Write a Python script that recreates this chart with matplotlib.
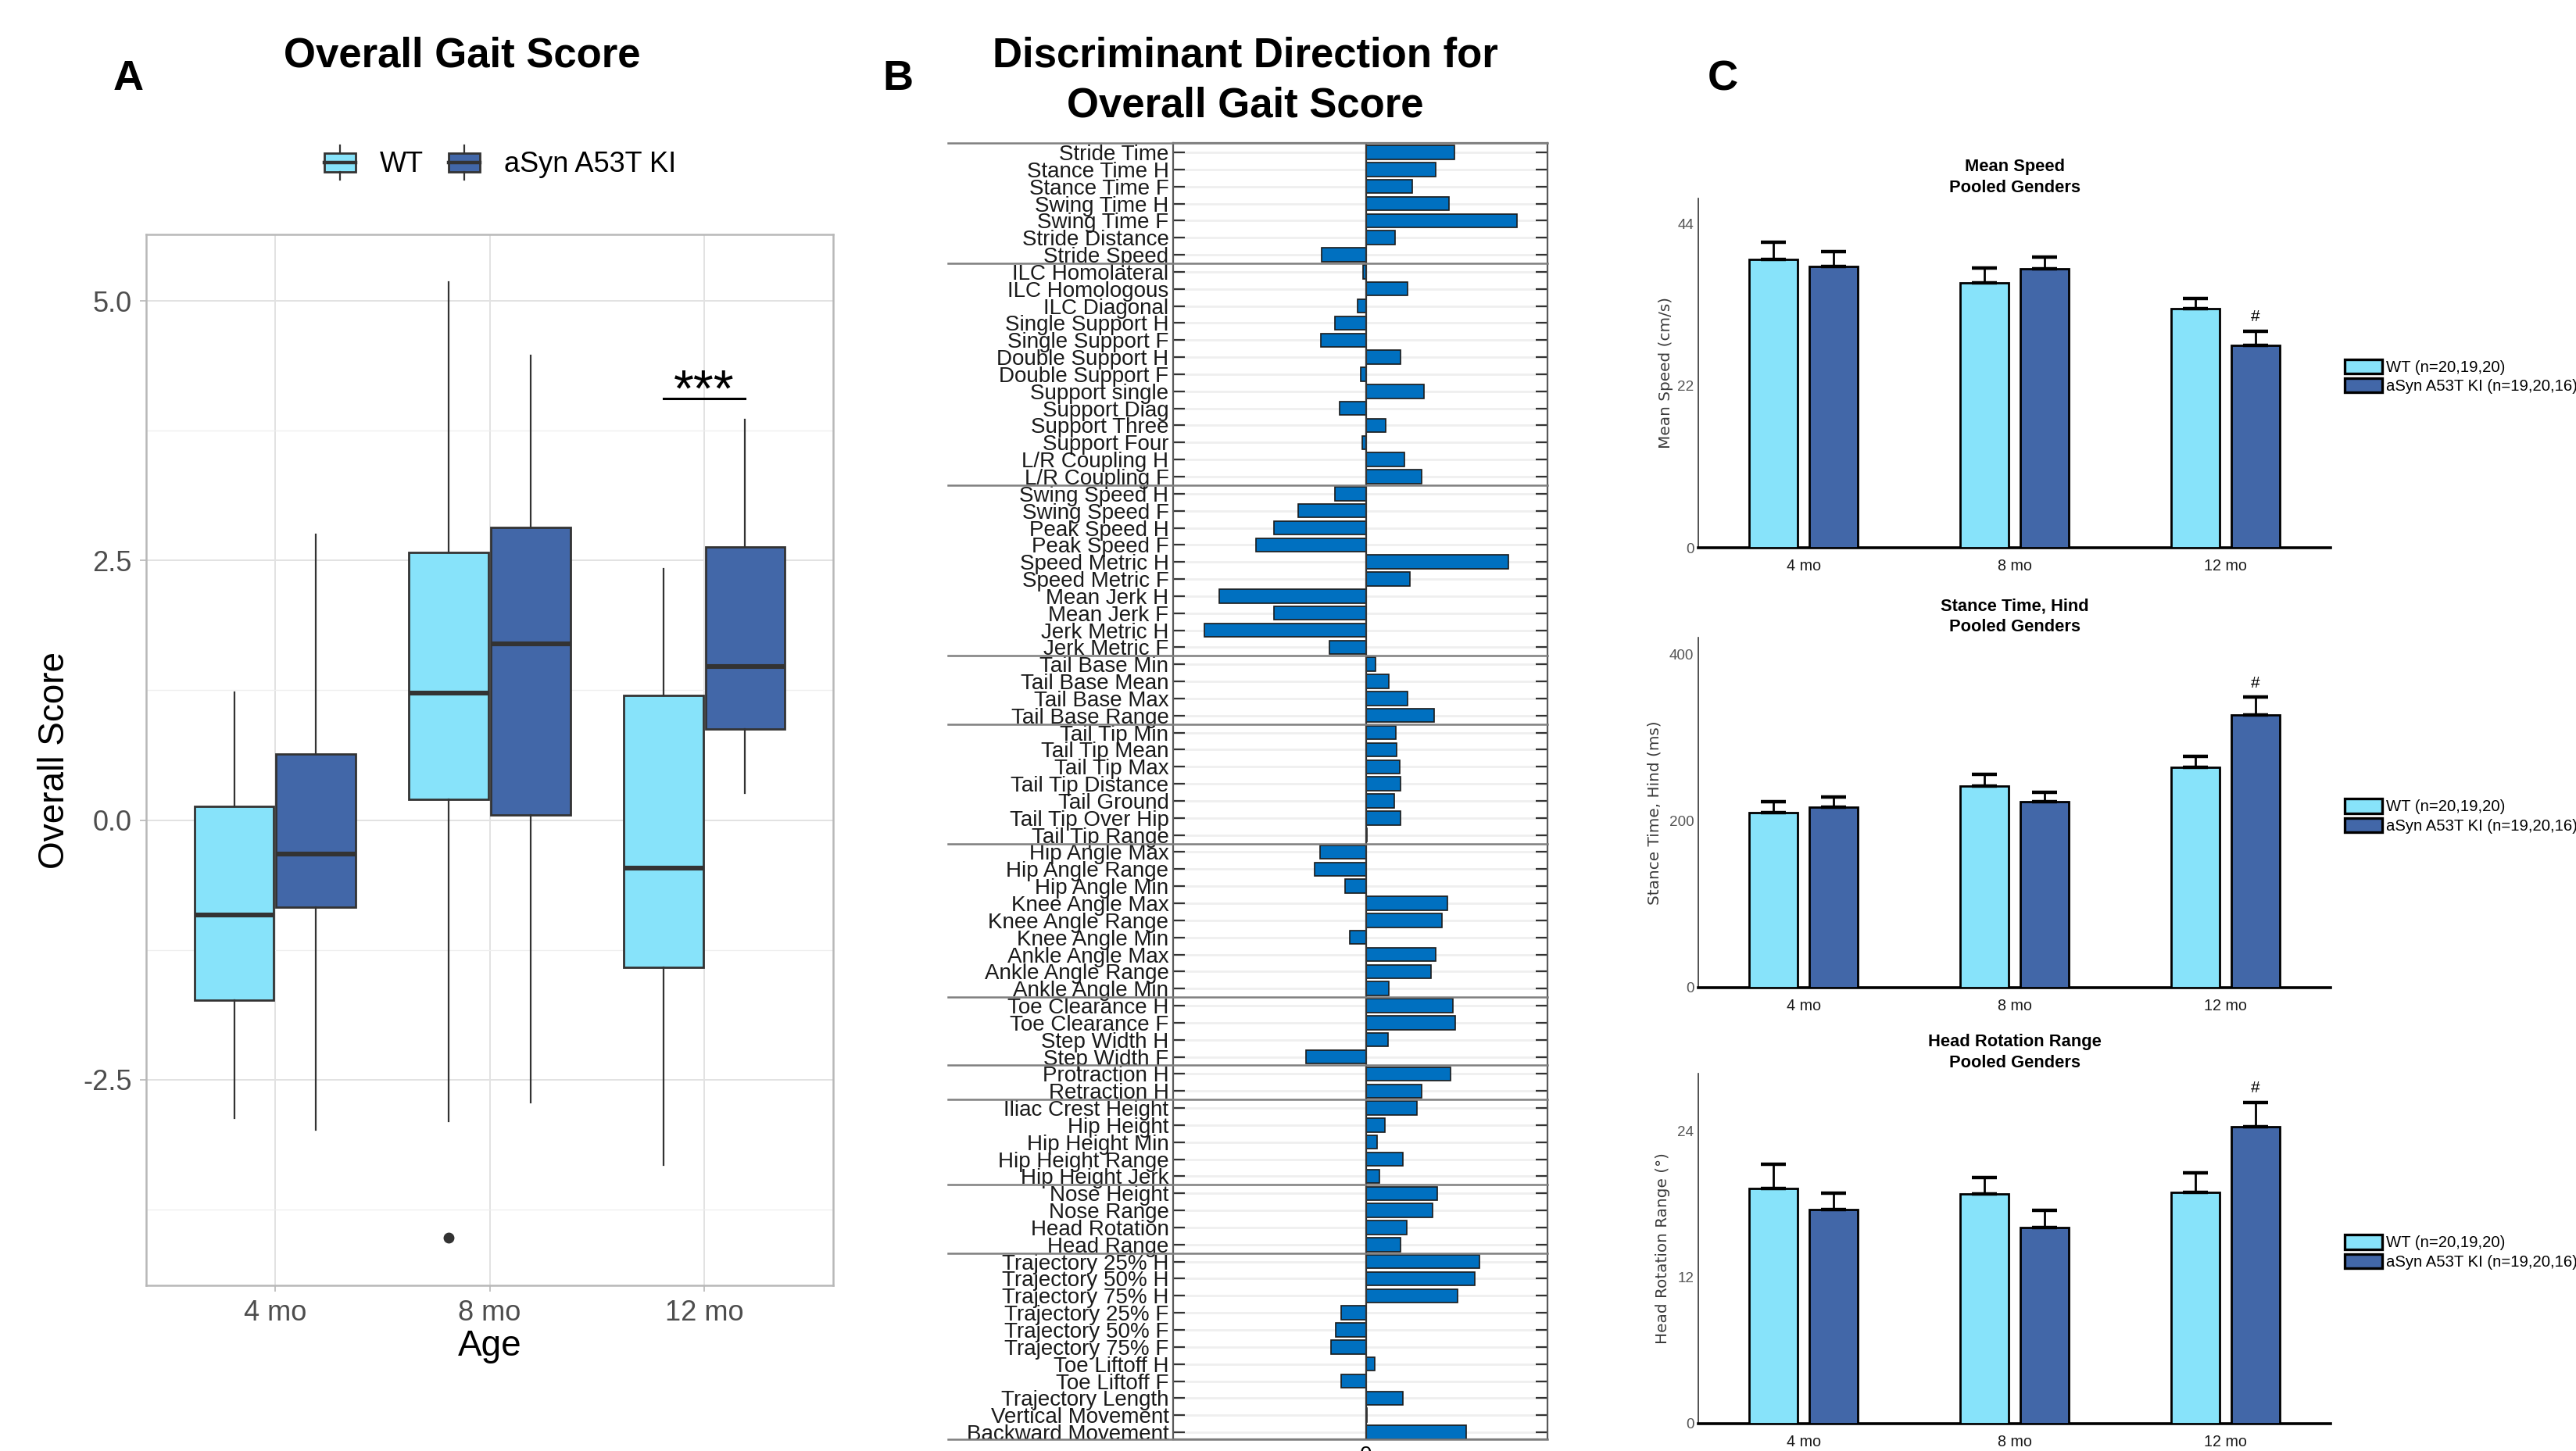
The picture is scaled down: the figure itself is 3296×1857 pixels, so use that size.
import matplotlib
matplotlib.use("Agg")
import matplotlib.pyplot as plt
import numpy as np
from matplotlib import transforms
from matplotlib.legend_handler import HandlerBase
from matplotlib.lines import Line2D
from matplotlib.patches import Patch, Rectangle

W, H = 3296, 1857
DPI = 200

plt.rcParams["font.family"] = ["Liberation Sans", "DejaVu Sans"]

WT_COLOR = "#87E3FA"
KI_COLOR = "#4267A8"
B_BAR_COLOR = "#0070C0"

# ---------------- panel A: box plot summaries ----------------
ages = ["4 mo", "8 mo", "12 mo"]
wt_whislo = [-2.87, -2.90, -3.32]
wt_q1 = [-1.73, 0.20, -1.42]
wt_med = [-0.91, 1.22, -0.46]
wt_q3 = [0.13, 2.58, 1.20]
wt_whishi = [1.23, 5.18, 2.42]
wt_fliers = [[], [-4.02], []]
ki_whislo = [-2.98, -2.72, 0.26]
ki_q1 = [-0.84, 0.05, 0.88]
ki_med = [-0.33, 1.70, 1.48]
ki_q3 = [0.64, 2.82, 2.63]
ki_whishi = [2.75, 4.47, 3.86]
ki_fliers = [[], [], []]

# ---------------- panel B: discriminant weights ----------------
features = [
    "Stride Time", "Stance Time H", "Stance Time F", "Swing Time H", "Swing Time F",
    "Stride Distance", "Stride Speed",
    "ILC Homolateral", "ILC Homologous", "ILC Diagonal", "Single Support H",
    "Single Support F", "Double Support H", "Double Support F", "Support single",
    "Support Diag", "Support Three", "Support Four", "L/R Coupling H", "L/R Coupling F",
    "Swing Speed H", "Swing Speed F", "Peak Speed H", "Peak Speed F", "Speed Metric H",
    "Speed Metric F", "Mean Jerk H", "Mean Jerk F", "Jerk Metric H", "Jerk Metric F",
    "Tail Base Min", "Tail Base Mean", "Tail Base Max", "Tail Base Range",
    "Tail Tip Min", "Tail Tip Mean", "Tail Tip Max", "Tail Tip Distance", "Tail Ground",
    "Tail Tip Over Hip", "Tail Tip Range",
    "Hip Angle Max", "Hip Angle Range", "Hip Angle Min", "Knee Angle Max",
    "Knee Angle Range", "Knee Angle Min", "Ankle Angle Max", "Ankle Angle Range",
    "Ankle Angle Min",
    "Toe Clearance H", "Toe Clearance F", "Step Width H", "Step Width F",
    "Protraction H", "Retraction H",
    "Iliac Crest Height", "Hip Height", "Hip Height Min", "Hip Height Range",
    "Hip Height Jerk",
    "Nose Height", "Nose Range", "Head Rotation", "Head Range",
    "Trajectory 25% H", "Trajectory 50% H", "Trajectory 75% H", "Trajectory 25% F",
    "Trajectory 50% F", "Trajectory 75% F", "Toe Liftoff H", "Toe Liftoff F",
    "Trajectory Length", "Vertical Movement", "Backward Movement",
]
weights = [
    2.22, 1.75, 1.17, 2.09, 3.78, 0.73, -1.11,
    -0.07, 1.05, -0.20, -0.77, -1.13, 0.87, -0.13, 1.46, -0.66, 0.49, -0.10, 0.97, 1.39,
    -0.78, -1.70, -2.31, -2.75, 3.57, 1.10, -3.68, -2.30, -4.05, -0.92,
    0.24, 0.58, 1.05, 1.72,
    0.76, 0.78, 0.85, 0.87, 0.72, 0.87, 0.03,
    -1.15, -1.28, -0.52, 2.05, 1.91, -0.40, 1.74, 1.64, 0.58,
    2.19, 2.24, 0.56, -1.51,
    2.12, 1.39,
    1.27, 0.47, 0.28, 0.93, 0.34,
    1.78, 1.68, 1.03, 0.87,
    2.84, 2.73, 2.29, -0.61, -0.75, -0.88, 0.23, -0.62, 0.92, 0.02, 2.52,
]
group_sizes = [7, 13, 10, 4, 7, 9, 4, 2, 5, 4, 11]

# ---------------- panel C: means and SEM ----------------
speed_wt_mean = [39.1, 35.9, 32.5]
speed_wt_sem = [2.4, 2.1, 1.3]
speed_ki_mean = [38.2, 37.9, 27.5]
speed_ki_sem = [2.0, 1.5, 1.9]

stance_wt_mean = [209.7, 241.5, 263.9]
stance_wt_sem = [13.0, 14.4, 13.0]
stance_ki_mean = [216.7, 223.4, 327.1]
stance_ki_sem = [11.7, 10.7, 21.4]

head_wt_mean = [19.30, 18.82, 18.94]
head_wt_sem = [2.00, 1.38, 1.62]
head_ki_mean = [17.56, 16.08, 24.34]
head_ki_sem = [1.33, 1.41, 2.02]

ki_significant = [False, False, True]
wt_label_c = "WT (n=20,19,20)"
ki_label_c = "aSyn A53T KI (n=19,20,16)"


def px_axes(fig, left, top, right, bottom):
    return fig.add_axes([left / W, 1 - bottom / H, (right - left) / W, (bottom - top) / H])


class BoxKeyHandler(HandlerBase):
    # legend key that looks like a small ggplot box
    def create_artists(self, legend, orig_handle, xdescent, ydescent, width, height, fontsize, trans):
        x0, y0 = -xdescent, -ydescent
        fc = orig_handle.get_facecolor()
        rect = Rectangle((x0, y0), width, height, facecolor=fc, edgecolor="#333333",
                         linewidth=1.0, transform=trans)
        med = Line2D([x0, x0 + width], [y0 + height / 2] * 2, color="#333333", lw=1.6, transform=trans)
        cx = x0 + width / 2
        top = Line2D([cx, cx], [y0 + height, y0 + height * 1.4], color="#333333", lw=0.8, transform=trans)
        bot = Line2D([cx, cx], [y0 - height * 0.4, y0], color="#333333", lw=0.8, transform=trans)
        return [rect, med, top, bot]


def box_stats(lo, q1, med, q3, hi, fliers):
    return [
        {"whislo": a, "q1": b, "med": c, "q3": d, "whishi": e, "fliers": f}
        for a, b, c, d, e, f in zip(lo, q1, med, q3, hi, fliers)
    ]


fig = plt.figure(figsize=(W / DPI, H / DPI), dpi=DPI, facecolor="white")

# ======================= Panel A =======================
ax_a = px_axes(fig, 187, 300, 1066, 1645)
cat_x = np.arange(1, len(ages) + 1)
dodge = 0.19
box_w = 0.37
for stats_args, offset, color in [
    ((wt_whislo, wt_q1, wt_med, wt_q3, wt_whishi, wt_fliers), -dodge, WT_COLOR),
    ((ki_whislo, ki_q1, ki_med, ki_q3, ki_whishi, ki_fliers), dodge, KI_COLOR),
]:
    ax_a.bxp(
        box_stats(*stats_args),
        positions=cat_x + offset,
        widths=box_w,
        patch_artist=True,
        showcaps=False,
        boxprops=dict(facecolor=color, edgecolor="#333333", linewidth=1.0),
        medianprops=dict(color="#333333", linewidth=2.2, solid_capstyle="butt"),
        whiskerprops=dict(color="#333333", linewidth=0.8),
        flierprops=dict(marker="o", markerfacecolor="#333333", markeredgecolor="#333333",
                        markersize=4),
        manage_ticks=False,
        zorder=3,
    )

ax_a.set_xlim(0.4, 3.6)
ax_a.set_ylim(-4.48, 5.64)
ax_a.set_xticks(cat_x)
ax_a.set_xticklabels(ages)
yt = [-2.5, 0.0, 2.5, 5.0]
ax_a.set_yticks(yt)
ax_a.set_yticklabels([f"{v:.1f}" for v in yt])
ax_a.set_yticks([-3.75, -1.25, 1.25, 3.75], minor=True)
ax_a.grid(which="major", color="#E2E2E2", linewidth=0.7, zorder=0)
ax_a.grid(which="minor", axis="y", color="#EEEEEE", linewidth=0.45, zorder=0)
ax_a.set_axisbelow(True)
for sp in ax_a.spines.values():
    sp.set_color("#B8B8B8")
    sp.set_linewidth(0.9)
ax_a.tick_params(which="major", length=3, width=0.6, color="#B8B8B8", labelsize=13,
                 labelcolor="#4D4D4D")
ax_a.tick_params(which="minor", length=0)
ax_a.set_xlabel("Age", fontsize=16.5, labelpad=1)
ax_a.set_ylabel("Overall Score", fontsize=16.5)
ax_a.yaxis.set_label_coords(-0.108, 0.5)

# significance bar over 12 mo
sig_x = cat_x[2]
sig_y = max(wt_whishi[2], ki_whishi[2]) + 0.2
ax_a.plot([sig_x - dodge, sig_x + dodge], [sig_y, sig_y], color="black", lw=1.1)
ax_a.text(sig_x, sig_y - 0.07, "***", ha="center", va="baseline", fontsize=24)

fig.legend(
    [Patch(facecolor=WT_COLOR), Patch(facecolor=KI_COLOR)],
    ["WT", "aSyn A53T KI"],
    handler_map={Patch: BoxKeyHandler()},
    loc="center", bbox_to_anchor=(640 / W, 1 - 211 / H), ncol=2, frameon=False,
    fontsize=13, handlelength=1.1, handleheight=0.65, handletextpad=0.85,
    columnspacing=0.9, borderpad=0,
)
fig.text(591 / W, 1 - 71 / H, "Overall Gait Score", ha="center", va="center",
         fontsize=19, fontweight="bold")
fig.text(164 / W, 1 - 101 / H, "A", ha="center", va="center", fontsize=19.5, fontweight="bold")

# ======================= Panel B =======================
ax_b = px_axes(fig, 1501, 183, 1980, 1842)
rows = np.arange(len(features))
ax_b.barh(rows, weights, height=0.8, color=B_BAR_COLOR, edgecolor="#1A1A1A", linewidth=0.6, zorder=3)
ax_b.axvline(0, color="#333333", lw=0.8, zorder=4)
ax_b.set_xlim(-4.83, 4.55)
ax_b.set_ylim(len(features) - 1 + 0.41, -0.55)
ax_b.set_yticks(rows)
ax_b.set_yticklabels(features, fontsize=10, color="#1A1A1A")
ax_b.set_xticks([0])
ax_b.set_xticklabels(["0"], fontsize=10)
ax_b.tick_params(axis="x", length=0, pad=3)
ax_b.tick_params(axis="y", direction="in", length=5.4, width=0.8, color="#333333",
                 left=True, right=True, pad=2)
ax_b.grid(axis="y", color="#EFEFEF", linewidth=1.0, zorder=0)
ax_b.set_axisbelow(True)
for sp in ax_b.spines.values():
    sp.set_color("#5A5A5A")
    sp.set_linewidth(0.8)

# group separators reaching out under the labels
blend = transforms.blended_transform_factory(ax_b.transAxes, ax_b.transData)
sep_left = (1213 - 1501) / (1980 - 1501)
bounds = np.cumsum(group_sizes) - 0.5
for yb in bounds[:-1]:
    ax_b.plot([sep_left, 1], [yb, yb], color="#7F7F7F", lw=0.9, transform=blend,
              clip_on=False, zorder=5)
for ya in (0, 1):
    ax_b.plot([sep_left, 1], [ya, ya], color="#7F7F7F", lw=0.9, transform=ax_b.transAxes,
              clip_on=False, zorder=5)

fig.text(1593 / W, 1 - 72 / H, "Discriminant Direction for", ha="center", va="center",
         fontsize=19, fontweight="bold")
fig.text(1593 / W, 1 - 135 / H, "Overall Gait Score", ha="center", va="center",
         fontsize=19, fontweight="bold")
fig.text(1149 / W, 1 - 101 / H, "B", ha="center", va="center", fontsize=19.5, fontweight="bold")

# ======================= Panel C =======================
def draw_bar_panel(ax, title, ylabel, wt_mean, wt_sem, ki_mean, ki_sem, yticks, ymax, label_x):
    x = np.arange(len(ages))
    off = 0.143
    bw = 0.23
    err_kw = dict(ecolor="black", elinewidth=1.0, capsize=5.8, capthick=1.6)
    ax.bar(x - off, wt_mean, bw, color=WT_COLOR, edgecolor="black", linewidth=1.0,
           yerr=[np.zeros(len(x)), wt_sem], error_kw=err_kw, label=wt_label_c, zorder=3)
    ax.bar(x + off, ki_mean, bw, color=KI_COLOR, edgecolor="black", linewidth=1.0,
           yerr=[np.zeros(len(x)), ki_sem], error_kw=err_kw, label=ki_label_c, zorder=3)
    for i, flag in enumerate(ki_significant):
        if flag:
            ax.annotate("#", (x[i] + off, ki_mean[i] + ki_sem[i]), xytext=(0, 3),
                        textcoords="offset points", ha="center", va="bottom", fontsize=7.5)
    ax.set_xlim(-0.5, 2.5)
    ax.set_ylim(0, ymax)
    ax.set_xticks(x)
    ax.set_xticklabels(ages, fontsize=7.1, color="#1A1A1A")
    ax.set_yticks(yticks)
    ax.set_yticklabels([str(v) for v in yticks], fontsize=6.8, color="#555555")
    ax.tick_params(axis="x", length=0, pad=5)
    ax.tick_params(axis="y", length=0, pad=2)
    for name in ("top", "right"):
        ax.spines[name].set_visible(False)
    ax.spines["bottom"].set_linewidth(1.3)
    ax.spines["bottom"].set_color("black")
    ax.spines["left"].set_linewidth(0.6)
    ax.spines["left"].set_color("#333333")
    ax.set_title(title, fontsize=7.9, fontweight="bold", pad=3, linespacing=1.35)
    ax.set_ylabel(ylabel, fontsize=7.2, family=["DejaVu Sans"], color="#3A3A3A")
    ax.yaxis.set_label_coords(label_x, 0.5)
    leg = ax.legend(loc="center left", bbox_to_anchor=(1.022, 0.49), frameon=False,
                    fontsize=7.3, handlelength=2.4, handleheight=1.0, handletextpad=0.2,
                    labelspacing=0.2, borderpad=0, borderaxespad=0)
    for patch in leg.get_patches():
        patch.set_linewidth(1.2)
        patch.set_edgecolor("black")


ax_c1 = px_axes(fig, 2173, 254, 2982, 701)
draw_bar_panel(ax_c1, "Mean Speed\nPooled Genders", "Mean Speed (cm/s)",
               speed_wt_mean, speed_wt_sem, speed_ki_mean, speed_ki_sem,
               [0, 22, 44], 47.4, -0.040)
ax_c2 = px_axes(fig, 2173, 816, 2982, 1264)
draw_bar_panel(ax_c2, "Stance Time, Hind\nPooled Genders", "Stance Time, Hind (ms)",
               stance_wt_mean, stance_wt_sem, stance_ki_mean, stance_ki_sem,
               [0, 200, 400], 419.7, -0.057)
ax_c3 = px_axes(fig, 2173, 1374, 2982, 1822)
draw_bar_panel(ax_c3, "Head Rotation Range\nPooled Genders", "Head Rotation Range (°)",
               head_wt_mean, head_wt_sem, head_ki_mean, head_ki_sem,
               [0, 12, 24], 28.7, -0.044)

fig.text(2204 / W, 1 - 101 / H, "C", ha="center", va="center", fontsize=19.5, fontweight="bold")

fig.savefig("out.png", dpi=DPI, facecolor="white")
